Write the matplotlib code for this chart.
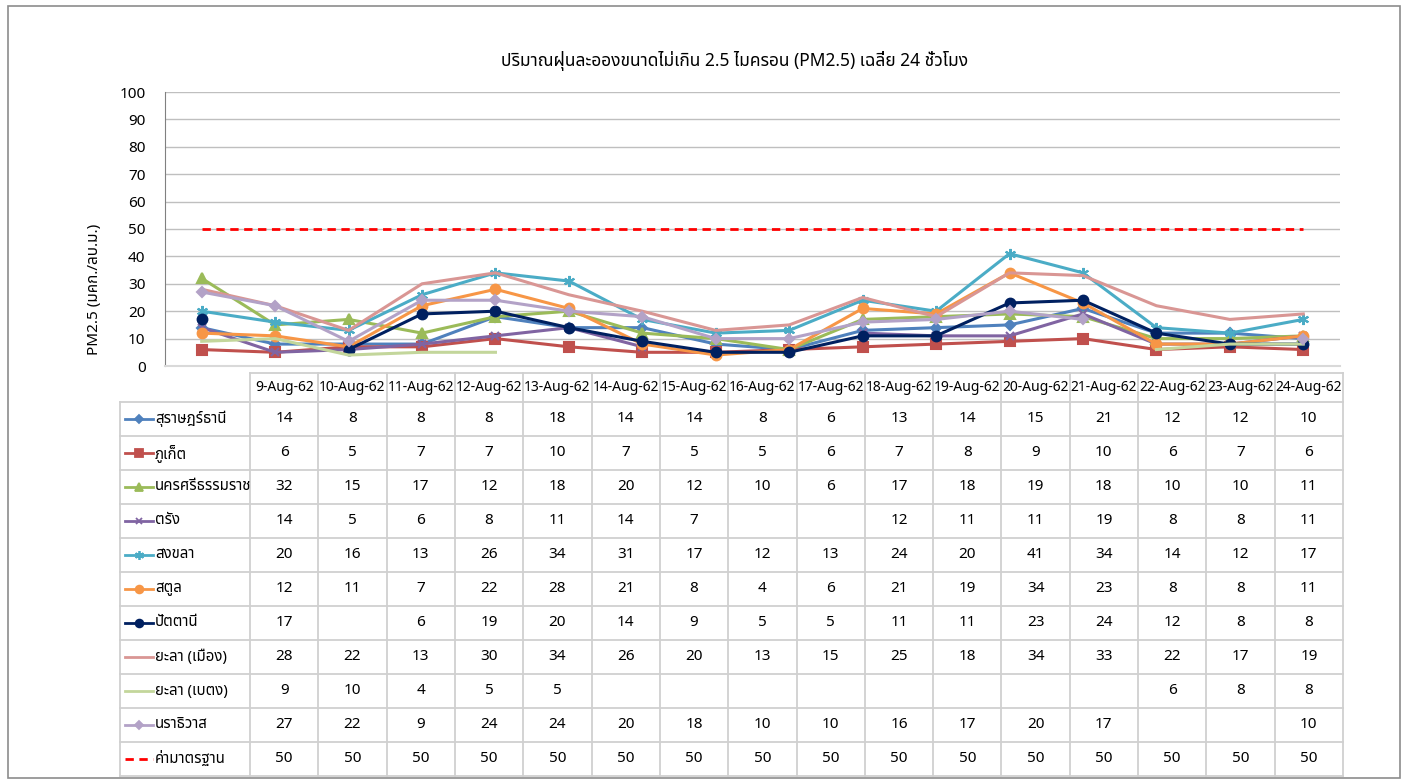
import numpy as np
import matplotlib
matplotlib.use("Agg")
import matplotlib.pyplot as plt
from matplotlib import font_manager as fm
from matplotlib.lines import Line2D

# ---------- find a font with Thai glyphs ----------
thai_family = None
try:
    from fontTools.ttLib import TTFont
    cands = []
    for f in fm.findSystemFonts():
        try:
            tt = TTFont(f, fontNumber=0, lazy=True)
            cmap = tt.getBestCmap()
            if cmap and 0x0E01 in cmap and 0x0E35 in cmap:
                name = fm.FontProperties(fname=f).get_name()
                cands.append(name)
        except Exception:
            pass
    pref = ["Tahoma", "Leelawadee UI", "Noto Sans Thai", "Noto Sans Thai UI", "Loma", "Garuda", "Sarabun", "Kinnari"]
    for p in pref:
        if p in cands:
            thai_family = p
            break
    if thai_family is None and cands:
        thai_family = cands[0]
except Exception:
    thai_family = None

fams = ([thai_family] if thai_family else []) + ["DejaVu Sans"]
plt.rcParams['font.family'] = fams

# ---------- data ----------
dates = ["9-Aug-62", "10-Aug-62", "11-Aug-62", "12-Aug-62", "13-Aug-62", "14-Aug-62",
         "15-Aug-62", "16-Aug-62", "17-Aug-62", "18-Aug-62", "19-Aug-62", "20-Aug-62",
         "21-Aug-62", "22-Aug-62", "23-Aug-62", "24-Aug-62"]
N = None
surat = [14, 8, 8, 8, 18, 14, 14, 8, 6, 13, 14, 15, 21, 12, 12, 10]
phuket = [6, 5, 7, 7, 10, 7, 5, 5, 6, 7, 8, 9, 10, 6, 7, 6]
nakhon = [32, 15, 17, 12, 18, 20, 12, 10, 6, 17, 18, 19, 18, 10, 10, 11]
trang = [14, 5, 6, 8, 11, 14, 7, N, N, 12, 11, 11, 19, 8, 8, 11]
songkhla = [20, 16, 13, 26, 34, 31, 17, 12, 13, 24, 20, 41, 34, 14, 12, 17]
satun = [12, 11, 7, 22, 28, 21, 8, 4, 6, 21, 19, 34, 23, 8, 8, 11]
pattani = [17, N, 6, 19, 20, 14, 9, 5, 5, 11, 11, 23, 24, 12, 8, 8]
yala_muang = [28, 22, 13, 30, 34, 26, 20, 13, 15, 25, 18, 34, 33, 22, 17, 19]
yala_betong = [9, 10, 4, 5, 5, N, N, N, N, N, N, N, N, 6, 8, 8]
narathiwat = [27, 22, 9, 24, 24, 20, 18, 10, 10, 16, 17, 20, 17, N, N, 10]
standard = [50] * 16

series_names = ["สุราษฎร์ธานี", "ภูเก็ต", "นครศรีธรรมราช", "ตรัง", "สงขลา", "สตูล",
                "ปัตตานี", "ยะลา (เมือง)", "ยะลา (เบตง)", "นราธิวาส", "ค่ามาตรฐาน"]
series_vals = [surat, phuket, nakhon, trang, songkhla, satun, pattani,
               yala_muang, yala_betong, narathiwat, standard]

styles = [
    dict(color="#4F81BD", marker="D", ms=5, ls="-"),
    dict(color="#C0504D", marker="s", ms=7, ls="-"),
    dict(color="#9BBB59", marker="^", ms=7, ls="-"),
    dict(color="#8064A2", marker="x", ms=6, ls="-"),
    dict(color="#4BACC6", marker=(6, 2, 0), ms=8, ls="-"),
    dict(color="#F79646", marker="o", ms=7, ls="-"),
    dict(color="#002060", marker="o", ms=7, ls="-"),
    dict(color="#D99694", marker=None, ms=0, ls="-"),
    dict(color="#C3D69B", marker=None, ms=0, ls="-"),
    dict(color="#B3A2C7", marker="D", ms=5, ls="-"),
    dict(color="#FF0000", marker=None, ms=0, ls=(0, (3, 2))),
]

W, H = 1407, 781
fig = plt.figure(figsize=(W / 100, H / 100), dpi=100)

# outer border
bg = fig.add_axes([0, 0, 1, 1])
bg.set_xlim(0, W)
bg.set_ylim(H, 0)
bg.axis("off")
bg.add_patch(plt.Rectangle((8, 6), 1392, 772, fill=False, ec="#8C8C8C", lw=1.2))

# ---------- plot area ----------
pl, pr, pt, pb = 165, 1340, 92, 366
ax = fig.add_axes([pl / W, 1 - pb / H, (pr - pl) / W, (pb - pt) / H])
x = np.arange(len(dates))
for name, vals, st in zip(series_names, series_vals, styles):
    y = np.array([np.nan if v is None else v for v in vals], dtype=float)
    lw = 2.2 if name != "ค่ามาตรฐาน" else 2.0
    ax.plot(x, y, color=st["color"], lw=lw, ls=st["ls"], marker=st["marker"],
            ms=st["ms"], mew=1.5, zorder=3)
ax.set_xlim(-0.5, len(dates) - 0.5)
ax.set_ylim(0, 100)
ax.set_yticks(np.arange(0, 101, 10))
ax.yaxis.grid(True, color="#BFBFBF", lw=1.0)
ax.set_axisbelow(True)
ax.set_xticks([])
for s in ["top", "right"]:
    ax.spines[s].set_visible(False)
ax.spines["left"].set_color("#808080")
ax.spines["bottom"].set_color("#D9D9D9")
ax.spines["bottom"].set_linewidth(1.5)
ax.tick_params(axis="y", length=0, labelsize=11, pad=14)
ax.set_ylabel("PM2.5 (มคก./ลบ.ม.)", fontsize=11)
ax.yaxis.set_label_coords(-0.054, 0.28)

fig.text(735 / W, 1 - 61 / H, "ปริมาณฝุ่นละอองขนาดไม่เกิน 2.5 ไมครอน (PM2.5) เฉลี่ย 24 ชั่วโมง",
         ha="center", va="center", fontsize=12.5)

# ---------- data table ----------
tl, tc0, tr = 120, 250, 1343
ty0, ty1, tb = 373, 402, 776
ncol = len(dates)
cw = (tr - tc0) / ncol
rh = (tb - ty1) / len(series_names)
gc = "#D0D0D0"
for j in range(ncol + 1):
    xx = tc0 + j * cw
    bg.plot([xx, xx], [ty0, tb], color=gc, lw=1.3)
bg.plot([tc0, tr], [ty0, ty0], color=gc, lw=1.3)
bg.plot([tl, tl], [ty1, tb], color=gc, lw=1.3)
for i in range(len(series_names) + 1):
    yy = ty1 + i * rh
    bg.plot([tl, tr], [yy, yy], color=gc, lw=1.3)
for j, d in enumerate(dates):
    bg.text(tc0 + (j + 0.5) * cw, (ty0 + ty1) / 2, d, ha="center", va="center", fontsize=10)
for i, (name, vals, st) in enumerate(zip(series_names, series_vals, styles)):
    yc = ty1 + (i + 0.5) * rh
    bg.add_line(Line2D([125, 153], [yc, yc], color=st["color"], lw=2.0, ls=st["ls"]))
    if st["marker"] is not None:
        bg.add_line(Line2D([139], [yc], color=st["color"], marker=st["marker"],
                           ms=st["ms"] * 0.8, mew=1.3))
    bg.text(155, yc, name, ha="left", va="center", fontsize=10.8)
    for j, v in enumerate(vals):
        if v is not None:
            bg.text(tc0 + (j + 0.5) * cw, yc, str(v), ha="center", va="center", fontsize=11)

fig.savefig("out.png", dpi=100)
